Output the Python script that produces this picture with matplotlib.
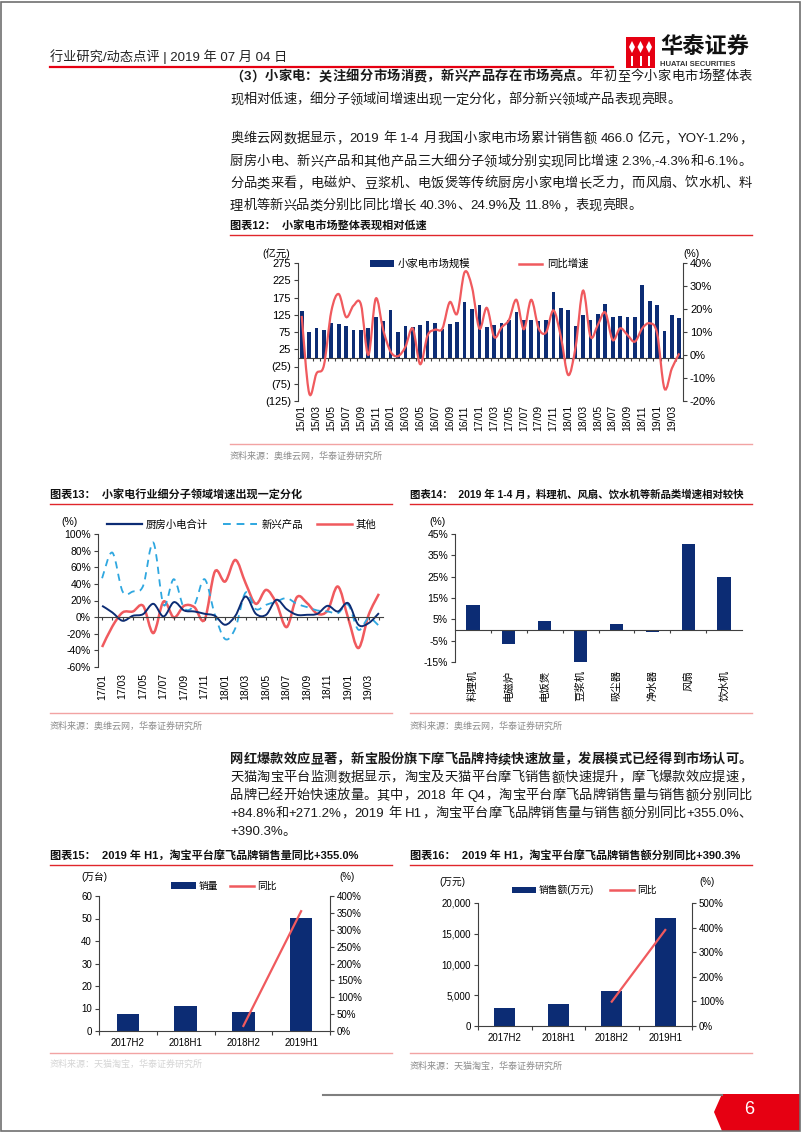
import re
import numpy as np
import matplotlib
matplotlib.use("Agg")
import matplotlib.pyplot as plt
from matplotlib.path import Path
from matplotlib.patches import PathPatch, Rectangle, Polygon
from matplotlib.lines import Line2D

# ---- data ----
months12 = [f"{y:02d}/{m:02d}" for y in range(15, 20) for m in range(1, 13)][:52]
size12 = [137, 75, 87, 81, 100, 99, 91, 80, 80, 87, 119, 108,
          138, 74, 91, 90, 96, 107, 102, 85, 98, 103, 163, 143,
          154, 89, 96, 101, 110, 132, 110, 109, 107, 111, 192, 146,
          138, 92, 124, 109, 126, 156, 118, 122, 118, 118, 212, 165,
          153, 79, 125, 115]
yoy12 = [17, -16.5, -8, -4.5, 19, 26.5, 16.5, 21.5, 22, 0, 24.5, 11,
         1.5, -0.5, 3.5, 11.5, -4, 8.5, 11, 11.5, 23, 18, 36, 29.5,
         11.5, 20.5, 7.8, 12, 15.3, 24, 11.2, 24, 11.6, 9.8, 19.4, 8,
         -8.7, 3.6, 28, 8, 13.1, 18.5, 6.5, 11.6, 8.7, 5.8, 11.6, 13.8,
         9.5, -14.6, -5.8, 0.7]

months13 = [f"{y:02d}/{m:02d}" for y in range(17, 20) for m in range(1, 13)][:28]
kitchen13 = [13.6, 5.6, -4.4, 1.6, 3.6, 16, 0.8, 18, 8, 6.8, 4, 1.6,
             -9.2, 1.6, 24.8, 4, 2.8, 20.8, 9.6, 2.8, 2.8, 4, 13.6, 6.8,
             16.8, -9.2, -7.2, 4.8]
emerging13 = [46.8, 77.6, 30.8, 30.8, 37.6, 89.6, 14.8, 45.6, 10.8, 14.8, 45.6, 2.8,
              -26.4, -13.2, 29.6, 9.6, 14.8, 18.8, 22.8, 16, 12, 8, 6.8, 4.8,
              14.8, -15.2, -1.2, -10.4]
other13 = [-36, -11.2, 5.6, 6.8, 13.6, -19.2, 18.8, -0.4, 13.6, 12, -3.2, 54.8,
           42.8, 68.8, 40.8, 16, 32.8, 16.8, -12, 24, 16.8, 4, 8, 36.8,
           -1.2, -37.2, 2.8, 28]

cats14 = ["料理机", "电磁炉", "电饭煲", "豆浆机", "吸尘器", "净水器", "风扇", "饮水机"]
growth14 = [11.8, -6.5, 4.3, -15.0, 3.0, -0.8, 40.3, 24.9]

halves = ["2017H2", "2018H1", "2018H2", "2019H1"]
units15 = [7.4, 11.1, 8.6, 50.4]
yoy15 = [np.nan, np.nan, 15, 355]
sales16 = [2850, 3560, 5680, 17500]
yoy16 = [np.nan, np.nan, 99, 390.3]

# ---- style ----
NAVY = "#0C2C74"
RED = "#F05A5E"
LBLUE = "#2EA7E0"
HRED = "#E0262B"
PINK = "#F2A3A3"
AXC = "#404040"
GREY = "#8C8C8C"

plt.rcParams["font.family"] = ["Liberation Sans", "Noto Sans CJK SC"]
plt.rcParams["axes.unicode_minus"] = False

W, H = 802, 1133
fig = plt.figure(figsize=(W / 100, H / 100), dpi=100)


def box(x0, y0, x1, y1):
    return [x0 / W, 1 - y1 / H, (x1 - x0) / W, (y1 - y0) / H]


def put(x, y, s, **kw):
    kw.setdefault("va", "center")
    return fig.text(x / W, 1 - y / H, s, **kw)


def hline(x0, x1, y, **kw):
    fig.add_artist(Line2D([x0 / W, x1 / W], [1 - y / H, 1 - y / H], **kw))


def smooth(xs, ys):
    verts = [(xs[0], ys[0])]
    codes = [Path.MOVETO]
    n = len(xs)
    for i in range(n - 1):
        a = max(i - 1, 0)
        b = min(i + 2, n - 1)
        c1 = (xs[i] + (xs[i + 1] - xs[a]) / 6, ys[i] + (ys[i + 1] - ys[a]) / 6)
        c2 = (xs[i + 1] - (xs[b] - xs[i]) / 6, ys[i + 1] - (ys[b] - ys[i]) / 6)
        verts += [c1, c2, (xs[i + 1], ys[i + 1])]
        codes += [Path.CURVE4] * 3
    return Path(verts, codes)


def style(ax, size=7.5):
    for s in ax.spines.values():
        s.set_color(AXC)
        s.set_linewidth(0.8)
    ax.tick_params(colors=AXC, labelcolor="black", labelsize=size,
                   length=3, width=0.8, pad=2)


renderer = fig.canvas.get_renderer()


def line_text(y, segs, x0=230, x1=None, size=9.5):
    items = []
    for text, wt in segs:
        for tok in re.findall(r"[\x21-\x7e]+| |.", text):
            if tok == " ":
                items.append((None, 0.3 * size * 100 / 72))
                continue
            t = put(0, y, tok, fontsize=size, fontweight=wt, color="#1a1a1a")
            items.append((t, t.get_window_extent(renderer).width))
    total = sum(w for _, w in items)
    gap = 0 if x1 is None else (x1 - x0 - total) / (len(items) - 1)
    x = x0
    for t, w in items:
        if t is not None:
            t.set_x(x / W)
        x += w + gap


# ---- page header ----
put(50, 57, "行业研究/动态点评 | 2019 年 07 月 04 日", fontsize=9.5, color="#222222")
hline(50, 613, 67, color="#E60012", lw=1.6)
fig.add_artist(Rectangle((626 / W, 1 - 68 / H), 29 / W, 31 / H,
                         transform=fig.transFigure, fc="#E60012", ec="none"))
for cx in (632, 640.5, 649):
    fig.add_artist(Polygon([((cx - 3) / W, 1 - 47 / H), (cx / W, 1 - 41 / H),
                            ((cx + 3) / W, 1 - 47 / H), (cx / W, 1 - 53 / H)],
                           transform=fig.transFigure, fc="white", ec="none"))
    fig.add_artist(Rectangle(((cx - 1) / W, 1 - 66 / H), 2 / W, 10 / H,
                             transform=fig.transFigure, fc="white", ec="none"))
put(660, 48, "华泰证券", fontsize=16, fontweight="bold", color="#111111")
put(660, 65, "HUATAI SECURITIES", fontsize=5.5, fontweight="bold", color="#333333")

# ---- body text ----
line_text(77, [("（3）小家电：关注细分市场消费，新兴产品存在市场亮点。", "bold"),
               ("年初至今小家电市场整体表", "normal")], x1=752)
line_text(100, [("现相对低速，细分子领域间增速出现一定分化，部分新兴领域产品表现亮眼。", "normal")])
line_text(139, [("奥维云网数据显示，2019 年 1-4 月我国小家电市场累计销售额 466.0 亿元，YOY-1.2%，", "normal")], x1=752)
line_text(162, [("厨房小电、新兴产品和其他产品三大细分子领域分别实现同比增速 2.3%,-4.3%和-6.1%。", "normal")], x1=752)
line_text(184, [("分品类来看，电磁炉、豆浆机、电饭煲等传统厨房小家电增长乏力，而风扇、饮水机、料", "normal")], x1=752)
line_text(206, [("理机等新兴品类分别比同比增长 40.3%、24.9%及 11.8%，表现亮眼。", "normal")])

line_text(760, [("网红爆款效应显著，新宝股份旗下摩飞品牌持续快速放量，发展模式已经得到市场认可。", "bold")], x1=752)
line_text(778, [("天猫淘宝平台监测数据显示，淘宝及天猫平台摩飞销售额快速提升，摩飞爆款效应提速，", "normal")], x1=752)
line_text(796, [("品牌已经开始快速放量。其中，2018 年 Q4，淘宝平台摩飞品牌销售量与销售额分别同比", "normal")], x1=752)
line_text(814, [("+84.8%和+271.2%，2019 年 H1，淘宝平台摩飞品牌销售量与销售额分别同比+355.0%、", "normal")], x1=752)
line_text(832, [("+390.3%。", "normal")])


def chart_frame(x0, x1, ytitle, title, ybottom, ysrc, src, srccolor=GREY, tsize=8):
    put(x0, ytitle, title, fontsize=tsize, fontweight="bold", color="#111111")
    hline(x0, x1, ytitle + 9, color=HRED, lw=1.0)
    hline(x0, x1, ybottom, color=PINK, lw=1.0)
    put(x0, ysrc, src, fontsize=6.5, color=srccolor)


# ---- chart 12 ----
chart_frame(230, 752, 226, "图表12：  小家电市场整体表现相对低速", 444, 456,
            "资料来源：奥维云网，华泰证券研究所")
ax = fig.add_axes(box(298, 263, 683, 401))
x = np.arange(len(size12))
ax.bar(x, size12, width=0.5, color=NAVY, zorder=2)
ax.set_xlim(-0.5, len(x) - 0.5)
ax.set_ylim(-125, 275)
yt = list(range(-125, 276, 50))
ax.set_yticks(yt)
ax.set_yticklabels([f"({-v})" if v < 0 else str(v) for v in yt])
style(ax, 8)
ax.spines["top"].set_visible(False)
ax.spines["right"].set_visible(False)
ax.spines["bottom"].set_position(("data", 0))
ax.set_xticks(x[::2])
ax.set_xticklabels(months12[::2], rotation=90, fontsize=7.5)
ax.set_xticks(x[:-1] + 0.5, minor=True)
ax.tick_params(axis="x", which="major", length=0, pad=34)
ax.tick_params(axis="x", which="minor", length=2.5, width=0.8, color=AXC)
tw = ax.twinx()
tw.set_ylim(-20, 40)
tw.set_yticks(range(-20, 41, 10))
tw.set_yticklabels([f"{v}%" for v in range(-20, 41, 10)])
style(tw, 8)
for s in ("top", "left", "bottom"):
    tw.spines[s].set_visible(False)
tw.add_patch(PathPatch(smooth(x, yoy12), fill=False, ec=RED, lw=1.6, zorder=3))
put(276, 254, "(亿元)", fontsize=7.5, ha="center")
put(692, 254, "(%)", fontsize=7.5, ha="center")
fig.legend([Rectangle((0, 0), 1, 1, fc=NAVY), Line2D([], [], color=RED, lw=1.8)],
           ["小家电市场规模", "同比增速"], ncol=2, frameon=False, fontsize=7.5,
           loc="center", bbox_to_anchor=(479 / W, 1 - 264 / H),
           handlelength=2.3, handleheight=0.6, handletextpad=0.4, columnspacing=4.6)

# ---- chart 13 ----
chart_frame(50, 392, 495, "图表13：  小家电行业细分子领域增速出现一定分化", 713, 726,
            "资料来源：奥维云网，华泰证券研究所")
ax = fig.add_axes(box(98, 534, 383, 667))
x = np.arange(len(months13))
ax.set_xlim(-0.4, len(x) - 0.6)
ax.set_ylim(-60, 100)
ax.set_yticks(range(-60, 101, 20))
ax.set_yticklabels([f"{v}%" for v in range(-60, 101, 20)])
style(ax)
ax.spines["top"].set_visible(False)
ax.spines["right"].set_visible(False)
ax.spines["bottom"].set_position(("data", 0))
ax.set_xticks(x[::2])
ax.set_xticklabels(months13[::2], rotation=90)
ax.set_xticks(x, minor=True)
ax.tick_params(axis="x", which="major", length=2.5, pad=38)
ax.tick_params(axis="x", which="minor", length=2.5, width=0.8, color=AXC)
ax.add_patch(PathPatch(smooth(x, other13), fill=False, ec=RED, lw=1.8))
ax.add_patch(PathPatch(smooth(x, emerging13), fill=False, ec=LBLUE, lw=1.3, ls=(0, (4, 3))))
ax.add_patch(PathPatch(smooth(x, kitchen13), fill=False, ec=NAVY, lw=1.4))
put(70, 522, "(%)", fontsize=7.5, ha="center")
fig.legend([Line2D([], [], color=NAVY, lw=1.6),
            Line2D([], [], color=LBLUE, lw=1.4, ls=(0, (4, 3))),
            Line2D([], [], color=RED, lw=1.8)],
           ["厨房小电合计", "新兴产品", "其他"], ncol=3, frameon=False, fontsize=7.5,
           loc="center", bbox_to_anchor=(242 / W, 1 - 525 / H),
           handlelength=3.3, handletextpad=0.4, columnspacing=1.4)

# ---- chart 14 ----
chart_frame(410, 752, 495, "图表14：  2019 年 1-4 月，料理机、风扇、饮水机等新品类增速相对较快",
            713, 726, "资料来源：奥维云网，华泰证券研究所", tsize=7.5)
ax = fig.add_axes(box(455, 534, 742, 662))
x = np.arange(len(cats14))
ax.bar(x, growth14, width=0.37, color=NAVY, zorder=2)
ax.set_xlim(-0.5, len(x) - 0.5)
ax.set_ylim(-15, 45)
ax.set_yticks(range(-15, 46, 10))
ax.set_yticklabels([f"{v}%" for v in range(-15, 46, 10)])
style(ax)
ax.spines["top"].set_visible(False)
ax.spines["right"].set_visible(False)
ax.spines["bottom"].set_position(("data", 0))
ax.set_xticks(x)
ax.set_xticklabels(cats14, rotation=90)
ax.set_xticks(x[:-1] + 0.5, minor=True)
ax.tick_params(axis="x", which="major", length=0, pad=29)
ax.tick_params(axis="x", which="minor", length=2.5, width=0.8, color=AXC)
put(437, 522, "(%)", fontsize=7.5, ha="center")

# ---- chart 15 ----
chart_frame(50, 392, 856, "图表15：  2019 年 H1，淘宝平台摩飞品牌销售量同比+355.0%", 1053, 1064,
            "资料来源：天猫淘宝，华泰证券研究所", srccolor="#D5D5D5")
ax = fig.add_axes(box(99, 896, 330, 1031))
x = np.arange(len(halves))
ax.bar(x, units15, width=0.39, color=NAVY, zorder=2)
ax.set_xlim(-0.5, len(x) - 0.5)
ax.set_ylim(0, 60)
ax.set_yticks(range(0, 61, 10))
style(ax, 7)
ax.spines["top"].set_visible(False)
ax.spines["right"].set_visible(False)
ax.set_xticks(x)
ax.set_xticklabels(halves)
ax.set_xticks(np.arange(len(x) + 1) - 0.5, minor=True)
ax.tick_params(axis="x", which="major", length=0, pad=5)
ax.tick_params(axis="x", which="minor", length=3, width=0.8, color=AXC)
tw = ax.twinx()
tw.set_ylim(0, 400)
tw.set_yticks(range(0, 401, 50))
tw.set_yticklabels([f"{v}%" for v in range(0, 401, 50)])
style(tw, 7)
for s in ("top", "left", "bottom"):
    tw.spines[s].set_visible(False)
tw.plot(x, yoy15, color=RED, lw=1.6)
put(94, 877, "(万台)", fontsize=7, ha="center")
put(347, 877, "(%)", fontsize=7, ha="center")
fig.legend([Rectangle((0, 0), 1, 1, fc=NAVY), Line2D([], [], color=RED, lw=1.8)],
           ["销量", "同比"], ncol=2, frameon=False, fontsize=7,
           loc="center", bbox_to_anchor=(224 / W, 1 - 886 / H),
           handlelength=2.5, handleheight=0.6, handletextpad=0.3, columnspacing=1.2)

# ---- chart 16 ----
chart_frame(410, 752, 856, "图表16：  2019 年 H1，淘宝平台摩飞品牌销售额分别同比+390.3%", 1053, 1066,
            "资料来源：天猫淘宝，华泰证券研究所")
ax = fig.add_axes(box(478, 903, 692, 1026))
x = np.arange(len(halves))
ax.bar(x, sales16, width=0.4, color=NAVY, zorder=2)
ax.set_xlim(-0.5, len(x) - 0.5)
ax.set_ylim(0, 20000)
ax.set_yticks(range(0, 20001, 5000))
ax.set_yticklabels([f"{v:,}" for v in range(0, 20001, 5000)])
style(ax, 7)
ax.spines["top"].set_visible(False)
ax.spines["right"].set_visible(False)
ax.set_xticks(x)
ax.set_xticklabels(halves)
ax.set_xticks(np.arange(len(x) + 1) - 0.5, minor=True)
ax.tick_params(axis="x", which="major", length=0, pad=5)
ax.tick_params(axis="x", which="minor", length=3, width=0.8, color=AXC)
tw = ax.twinx()
tw.set_ylim(0, 500)
tw.set_yticks(range(0, 501, 100))
tw.set_yticklabels([f"{v}%" for v in range(0, 501, 100)])
style(tw, 7)
for s in ("top", "left", "bottom"):
    tw.spines[s].set_visible(False)
tw.plot(x, yoy16, color=RED, lw=1.6)
put(452, 882, "(万元)", fontsize=7, ha="center")
put(707, 882, "(%)", fontsize=7, ha="center")
fig.legend([Rectangle((0, 0), 1, 1, fc=NAVY), Line2D([], [], color=RED, lw=1.8)],
           ["销售额(万元)", "同比"], ncol=2, frameon=False, fontsize=7,
           loc="center", bbox_to_anchor=(584 / W, 1 - 890 / H),
           handlelength=2.5, handleheight=0.6, handletextpad=0.3, columnspacing=1.6)

# ---- page footer and frame ----
hline(323, 722, 1095, color="#7F7F7F", lw=1.5)
fig.add_artist(Polygon([(722 / W, 1 - 1094 / H), (800 / W, 1 - 1094 / H), (800 / W, 1 - 1131 / H),
                        (722 / W, 1 - 1131 / H), (714 / W, 1 - 1112 / H)],
                       transform=fig.transFigure, fc="#E60012", ec="none"))
put(749, 1110, "6", fontsize=13, color="white", ha="center")
fig.add_artist(Rectangle((1 / W, 1 - 1131 / H), 799 / W, 1129 / H, transform=fig.transFigure,
                         fill=False, ec="#707070", lw=1.2))

fig.savefig("out.png", dpi=100)
